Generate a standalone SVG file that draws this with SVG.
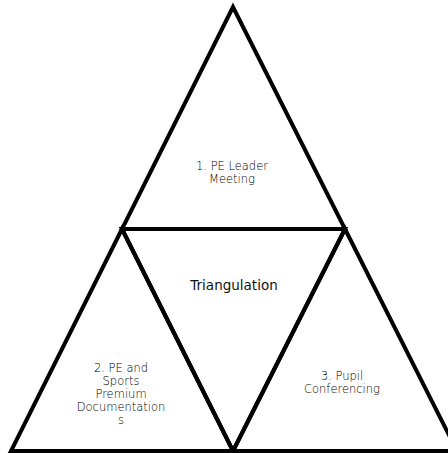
<svg xmlns="http://www.w3.org/2000/svg" width="448" height="453" viewBox="0 0 448 453">
<style>
.tri{fill:none;stroke:#000;stroke-width:4;stroke-linejoin:miter}
.lbl{font-family:"DejaVu Sans","Noto Sans",sans-serif;font-weight:200;font-size:11.5px;fill:#000;text-anchor:middle}
.main{font-family:"DejaVu Sans","Noto Sans",sans-serif;font-weight:400;font-size:13.5px;fill:#111;text-anchor:middle}
</style>
<rect width="448" height="453" fill="#fff"/>
<g id="connectors"></g>
<g id="node-top">
<polygon class="tri" points="233,7 122,229 345,229"/>
<text class="lbl" x="232" y="170">1. PE Leader</text>
<text class="lbl" x="232" y="183">Meeting</text>
</g>
<g id="node-left">
<polygon class="tri" points="122,229 11,451 233,451"/>
<text class="lbl" x="121" y="372">2. PE and</text>
<text class="lbl" x="121" y="385">Sports</text>
<text class="lbl" x="121" y="398">Premium</text>
<text class="lbl" x="121" y="411">Documentation</text>
<text class="lbl" x="121" y="424">s</text>
</g>
<g id="node-right">
<polygon class="tri" points="345,229 233,451 457,451"/>
<text class="lbl" x="342" y="380">3. Pupil</text>
<text class="lbl" x="342" y="393">Conferencing</text>
</g>
<g id="node-center">
<polygon class="tri" points="122,229 345,229 233,451"/>
<text class="main" x="234" y="290">Triangulation</text>
</g>
</svg>
